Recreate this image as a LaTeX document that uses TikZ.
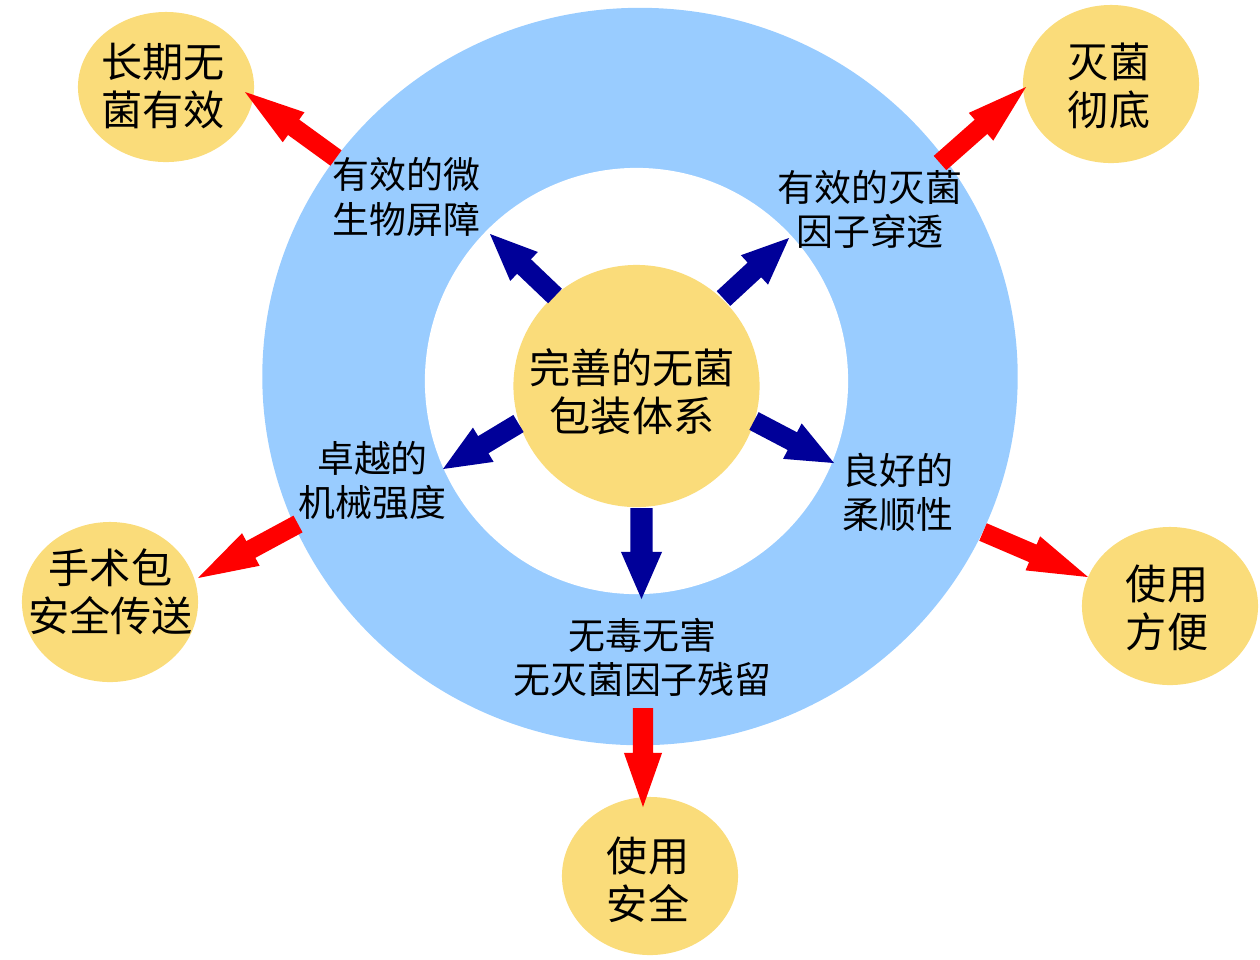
\documentclass[tikz,border=0pt]{standalone}
\usepackage{fontspec}
\setmainfont{Noto Sans CJK SC}
\usetikzlibrary{shapes.geometric,calc}
\definecolor{ringblue}{RGB}{153,204,255}
\definecolor{sunyellow}{RGB}{250,220,122}
\definecolor{navyblue}{RGB}{0,0,153}
\definecolor{arrowred}{RGB}{255,0,0}
% #1 colour, #2 tail, #3 tip, #4 half shaft, #5 half head, #6 head length
\newcommand\fatarrow[6]{%
  \coordinate (fa-n) at ($(#3)!#6!(#2)$);
  \fill[#1] ($(#2)!#4!90:(#3)$) -- ($(fa-n)!#4!90:(#3)$) -- ($(fa-n)!#5!90:(#3)$)
    -- (#3) -- ($(fa-n)!#5!-90:(#3)$) -- ($(fa-n)!#4!-90:(#3)$) -- ($(#2)!#4!-90:(#3)$) -- cycle;
}
\begin{document}
\begin{tikzpicture}[x=0.01cm,y=-0.01cm,
  bubble/.style={ellipse, fill=sunyellow, inner sep=0pt, minimum width=1.76cm, minimum height=1.58cm},
  bigtext/.style={align=center, inner sep=0pt, font=\fontsize{11.7}{13.7}\selectfont},
  ringtext/.style={align=center, inner sep=0pt, font=\fontsize{10.5}{12.6}\selectfont}]
\useasboundingbox (0,0) rectangle (1260,959);
% ring
\node[ellipse, fill=ringblue, inner sep=0pt, minimum width=7.55cm, minimum height=7.37cm] (ring) at (640,376.5) {};
\node[ellipse, fill=white, inner sep=0pt, minimum width=4.23cm, minimum height=4.26cm] (hole) at (636.5,381) {};
\node[ellipse, fill=sunyellow, inner sep=0pt, minimum width=2.46cm, minimum height=2.42cm] (core) at (636.5,386) {};
\node[bigtext] (coretext) at (632,391.5) {完善的无菌\\包装体系};
% outer bubbles
\node[bubble, minimum height=1.50cm] (c1) at (166,87) {};
\node[bubble] (c2) at (1111,84) {};
\node[bubble, minimum height=1.60cm] (c3) at (110,602) {};
\node[bubble] (c4) at (1170,606) {};
\node[bubble] (c5) at (650,876) {};
\node[bigtext] (t1) at (163,86) {长期无\\菌有效};
\node[bigtext] (t2) at (1109,86) {灭菌\\彻底};
\node[bigtext] (t3) at (110.5,591.5) {手术包\\安全传送};
\node[bigtext] (t4) at (1167,607.5) {使用\\方便};
\node[bigtext] (t5) at (648,880) {使用\\安全};
% ring labels
\node[ringtext] (r1) at (406.5,197) {有效的微\\生物屏障};
\node[ringtext] (r2) at (870,209.5) {有效的灭菌\\因子穿透};
\node[ringtext] (r3) at (372.5,480.5) {卓越的\\机械强度};
\node[ringtext] (r4) at (898,492.5) {良好的\\柔顺性};
\node[ringtext] (r5) at (642.5,657.5) {无毒无害\\无灭菌因子残留};
% arrow end points
\coordinate (b1s) at (555,296);   \coordinate (b1e) at (490,234);
\coordinate (b2s) at (723.5,298.5); \coordinate (b2e) at (789,238);
\coordinate (b3s) at (518.5,423.5); \coordinate (b3e) at (443,469);
\coordinate (b4s) at (754,421);   \coordinate (b4e) at (834,463);
\coordinate (b5s) at (641.5,508); \coordinate (b5e) at (641.5,599);
\coordinate (a1s) at (336,158);   \coordinate (a1e) at (245,92);
\coordinate (a2s) at (940,163);   \coordinate (a2e) at (1026,87);
\coordinate (a3s) at (298,524);   \coordinate (a3e) at (198,578);
\coordinate (a4s) at (983,532);   \coordinate (a4e) at (1088,577);
\coordinate (a5s) at (643,708);   \coordinate (a5e) at (643,807);
% blue arrows
\fatarrow{navyblue}{b1s}{b1e}{0.10cm}{0.20cm}{0.47cm}
\fatarrow{navyblue}{b2s}{b2e}{0.10cm}{0.20cm}{0.47cm}
\fatarrow{navyblue}{b3s}{b3e}{0.10cm}{0.20cm}{0.47cm}
\fatarrow{navyblue}{b4s}{b4e}{0.10cm}{0.20cm}{0.47cm}
\fatarrow{navyblue}{b5s}{b5e}{0.11cm}{0.205cm}{0.47cm}
% red arrows
\fatarrow{arrowred}{a1s}{a1e}{0.095cm}{0.185cm}{0.60cm}
\fatarrow{arrowred}{a2s}{a2e}{0.095cm}{0.185cm}{0.60cm}
\fatarrow{arrowred}{a3s}{a3e}{0.095cm}{0.185cm}{0.60cm}
\fatarrow{arrowred}{a4s}{a4e}{0.095cm}{0.185cm}{0.60cm}
\fatarrow{arrowred}{a5s}{a5e}{0.10cm}{0.19cm}{0.54cm}
\end{tikzpicture}
\end{document}
